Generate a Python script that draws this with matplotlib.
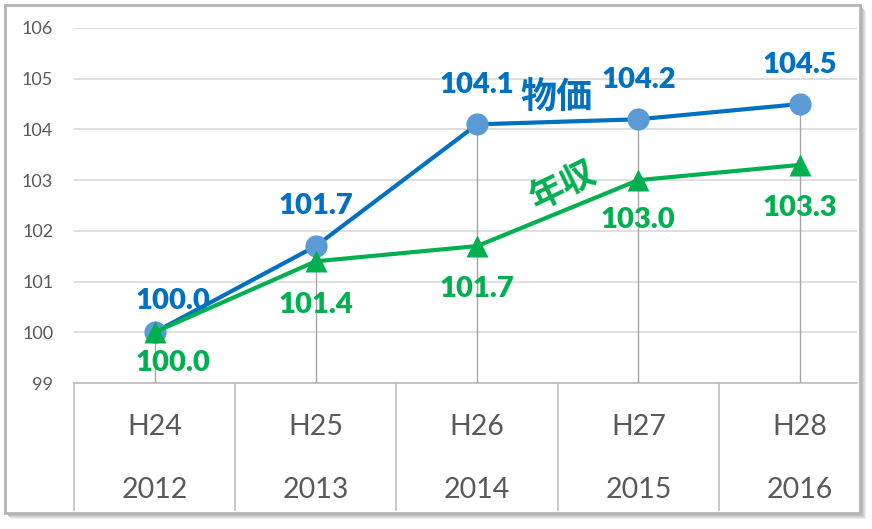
import matplotlib
matplotlib.use("Agg")
import matplotlib.pyplot as plt
from matplotlib.patches import Rectangle
from matplotlib.transforms import blended_transform_factory

# ---- data ----
era_labels = ['H24', 'H25', 'H26', 'H27', 'H28']
year_labels = ['2012', '2013', '2014', '2015', '2016']
price_index = [100.0, 101.7, 104.1, 104.2, 104.5]
income_index = [100.0, 101.4, 101.7, 103.0, 103.3]
price_name = '物価'
income_name = '年収'
y_ticks = [99, 100, 101, 102, 103, 104, 105, 106]

plt.rcParams['font.family'] = ['Lato', 'DejaVu Sans']

W, H = 872, 529
fig = plt.figure(figsize=(W / 100, H / 100), dpi=100)
fig.patch.set_facecolor('white')


def px_rect(x0, y0, x1, y1):
    return [x0 / W, 1 - y1 / H, (x1 - x0) / W, (y1 - y0) / H]


# frame shadow + border
for off, col in [(6, '#ececec'), (5, '#dedede'), (4, '#cfcfcf'), (3, '#c0c0c0')]:
    l, b, w, h = px_rect(5 + off, 5 + off, 860 + off, 513 + off)
    fig.patches.append(Rectangle((l, b), w, h, transform=fig.transFigure,
                                 facecolor=col, edgecolor='none', zorder=-2))
l, b, w, h = px_rect(5, 5, 860, 513)
fig.patches.append(Rectangle((l, b), w, h, transform=fig.transFigure,
                             facecolor='white', edgecolor='#B4B4B4', lw=2, zorder=-1))

ax = fig.add_axes(px_rect(74, 28, 857, 383))
ax.set_zorder(5)
ax.set_facecolor('none')
ax.set_xlim(-0.5, 4.356)
ax.set_ylim(99, 106)
for s in ax.spines.values():
    s.set_visible(False)
ax.set_xticks([])
ax.set_yticks(y_ticks)
ax.set_yticklabels([str(t) for t in y_ticks])
ax.tick_params(axis='y', length=0, pad=15, labelsize=13, labelcolor='#595959')
ax.yaxis.grid(True, color='#D9D9D9', lw=1.2, zorder=0)
ax.set_axisbelow(True)
ax.axhline(99, color='#BFBFBF', lw=1.3, zorder=1, clip_on=False)

# category table
trans = blended_transform_factory(ax.transData, ax.transAxes)
n = len(era_labels)
for bnd in [i - 0.5 for i in range(n)]:
    ax.plot([bnd, bnd], [0, -0.358], transform=trans, color='#BFBFBF', lw=1.2,
            clip_on=False, zorder=1)
for i in range(n):
    ax.text(i, -0.124, era_labels[i], transform=trans, ha='center', va='center',
            fontsize=20.5, color='#595959')
    ax.text(i, -0.301, year_labels[i], transform=trans, ha='center', va='center',
            fontsize=20.5, color='#595959')

xs = list(range(n))
tops = [max(a, b) for a, b in zip(price_index, income_index)]
ax.vlines(xs, 99, tops, color='#A6A6A6', lw=1, zorder=2)

blue_line = '#0070C0'
blue_marker = '#5B9BD5'
green = '#00B050'

ax.plot(xs, price_index, color=blue_line, lw=3, zorder=3)
ax.plot(xs, price_index, 'o', ms=16, mfc=blue_marker, mec='none', zorder=4)
ax.plot(xs, income_index, color=green, lw=3, zorder=5)
ax.plot(xs, income_index, '^', ms=16.5, mfc=green, mec='none', zorder=6)

price_offsets = [(18, 31), (0, 40), (0, 39), (0, 39), (0, 39)]
income_offsets = [(18, -31), (0, -44), (0, -43), (0, -40), (0, -43)]
for i in range(n):
    ax.annotate(f'{price_index[i]:.1f}', (xs[i], price_index[i]),
                xytext=price_offsets[i], textcoords='offset pixels',
                ha='center', va='center', fontsize=21, fontweight='heavy',
                color=blue_line, zorder=7, annotation_clip=False)
    ax.annotate(f'{income_index[i]:.1f}', (xs[i], income_index[i]),
                xytext=income_offsets[i], textcoords='offset pixels',
                ha='center', va='center', fontsize=21, fontweight='heavy',
                color=green, zorder=7, annotation_clip=False)

ax.text(2.49, 104.64, price_name, ha='center', va='center', fontsize=26,
        fontweight='bold', color=blue_line, family=['Noto Sans CJK JP'], zorder=7)
ax.text(2.533, 102.9, income_name, ha='center', va='center', fontsize=25,
        fontweight='bold', color=green, family=['Noto Sans CJK JP'],
        rotation=26, rotation_mode='anchor', zorder=7)

fig.savefig('out.png', dpi=100, facecolor='white')
